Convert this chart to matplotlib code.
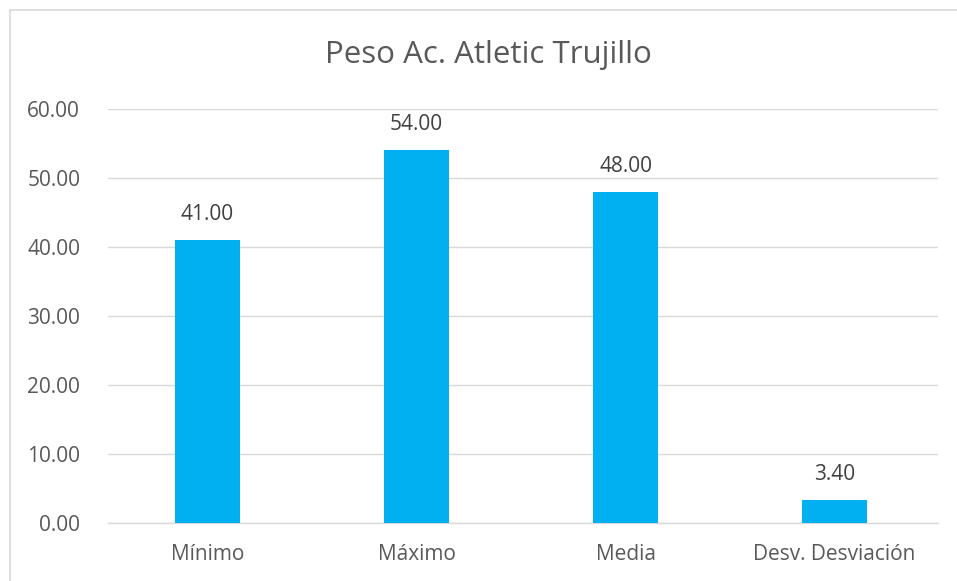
import matplotlib.pyplot as plt
from matplotlib.patches import Rectangle

categories = ['Mínimo', 'Máximo', 'Media', 'Desv. Desviación']
values = [41.00, 54.00, 48.00, 3.40]
yticks = [0, 10, 20, 30, 40, 50, 60]

plt.rcParams['font.family'] = ['Open Sans', 'DejaVu Sans']

fig = plt.figure(figsize=(9.57, 5.81), dpi=100)
fig.patch.set_facecolor('white')

# outer chart border (cut off at right and bottom)
fig.patches.append(Rectangle((10 / 957, -0.1), 1.2, 1 - 10 / 581 + 0.1,
                             transform=fig.transFigure, fill=False,
                             edgecolor='#D9D9D9', linewidth=1.2))

ax = fig.add_axes([108 / 957, 1 - 523 / 581, 830 / 957, (523 - 109) / 581])

x = range(len(categories))
bars = ax.bar(x, values, width=0.31, color='#00B0F0', zorder=3)

for bar, v in zip(bars, values):
    ax.text(bar.get_x() + bar.get_width() / 2, v + 3.7, f'{v:.2f}',
            ha='center', va='center', fontsize=15, color='#404040')

ax.set_xlim(-0.476, 3.495)
ax.set_ylim(0, 60)
ax.set_yticks(yticks)
ax.set_yticklabels([f'{t:.2f}' for t in yticks], fontsize=15, color='#595959')
ax.set_xticks(list(x))
ax.set_xticklabels(categories, fontsize=15, color='#595959')
ax.tick_params(axis='both', length=0)
ax.tick_params(axis='x', pad=15)
ax.tick_params(axis='y', pad=20)

ax.grid(axis='y', color='#D9D9D9', linewidth=1, zorder=0)
for side in ['top', 'right', 'left']:
    ax.spines[side].set_visible(False)
ax.spines['bottom'].set_color('#D9D9D9')
ax.spines['bottom'].set_linewidth(1)

fig.text(488 / 957, 1 - 55 / 581, 'Peso Ac. Atletic Trujillo', ha='center',
         va='center', fontsize=22.5, color='#595959')

plt.savefig('out.png', dpi=100)
